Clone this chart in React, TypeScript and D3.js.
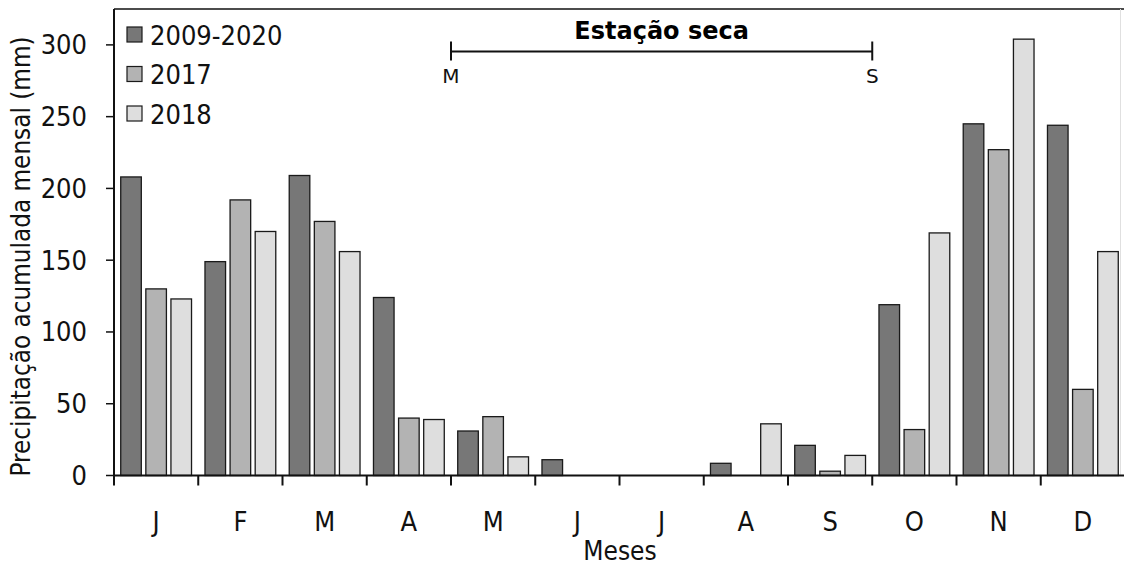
import React from "react";
import * as d3 from "d3";

const months = ["J", "F", "M", "A", "M", "J", "J", "A", "S", "O", "N", "D"];
const seriesNames = ["2009-2020", "2017", "2018"];
const seriesColors = ["#777777", "#b3b3b3", "#dedede"];
const mean0920 = [208, 149, 209, 124, 31, 11, 0, 8.5, 21, 119, 245, 244];
const y2017 = [130, 192, 177, 40, 41, 0, 0, 0, 3, 32, 227, 60];
const y2018 = [123, 170, 156, 39, 13, 0, 0, 36, 14, 169, 304, 156];
const yTicks = [0, 50, 100, 150, 200, 250, 300];
const drySeason = { from: 4, to: 8, title: "Estação seca", startLabel: "M", endLabel: "S" };

const W = 1124;
const H = 565;
const FONT = "'DejaVu Sans Condensed', 'DejaVu Sans', sans-serif";

export default function App() {
  const left = 114;
  const right = 1125;
  const top = 9;
  const bottom = 475.5;

  const x = d3.scaleBand<number>().domain(months.map((_, i) => i)).range([left, right]).padding(0);
  const xs = d3
    .scaleBand<number>()
    .domain([0, 1, 2])
    .range([0, x.bandwidth()])
    .paddingInner(0.18)
    .paddingOuter(0.268);
  const y = d3.scaleLinear().domain([0, 325]).range([bottom, top]);

  const data = [mean0920, y2017, y2018];

  const bounds = d3.range(months.length + 1).map((i) => (i < months.length ? x(i)! : x(months.length - 1)! + x.bandwidth()));

  const dsX1 = x(drySeason.from)!;
  const dsX2 = x(drySeason.to)! + x.bandwidth();
  const dsY = 51.5;

  return (
    <svg
      width={W}
      height={H}
      style={{ position: "absolute", left: 0, top: 0, display: "block", background: "#fff" }}
      fontFamily={FONT}
    >
      <rect x={0} y={0} width={W} height={H} fill="#fff" />
      {/* frame */}
      <line x1={left} x2={W} y1={top} y2={top} stroke="#111" strokeWidth={1.5} />
      <line x1={1120.5} x2={1120.5} y1={top} y2={bottom} stroke="#e0e0e0" strokeWidth={1} />

      {/* bars */}
      {data.map((vals, s) =>
        vals.map((v, i) =>
          v > 0 ? (
            <rect
              key={`${s}-${i}`}
              x={x(i)! + xs(s)!}
              y={y(v)}
              width={xs.bandwidth()}
              height={bottom - y(v)}
              fill={seriesColors[s]}
              stroke="#1a1a1a"
              strokeWidth={1.3}
            />
          ) : null
        )
      )}

      {/* y axis */}
      <line x1={left} x2={left} y1={top} y2={bottom} stroke="#111" strokeWidth={2} />
      {yTicks.map((t) => (
        <g key={t}>
          <line x1={left - 8} x2={left} y1={y(t)} y2={y(t)} stroke="#111" strokeWidth={1.5} />
          <text x={87} y={y(t)} textAnchor="end" dominantBaseline="central" fontSize={27} fill="#111">
            {t}
          </text>
        </g>
      ))}

      {/* x axis */}
      <line x1={left} x2={W} y1={bottom} y2={bottom} stroke="#111" strokeWidth={2} />
      {bounds.map((b, i) => (
        <line key={i} x1={b} x2={b} y1={bottom} y2={bottom + 10} stroke="#111" strokeWidth={2} />
      ))}
      {months.map((m, i) => (
        <text key={i} x={x(i)! + x.bandwidth() / 2} y={531} textAnchor="middle" fontSize={27} fill="#111">
          {m}
        </text>
      ))}

      {/* axis titles */}
      <text x={620} y={560} textAnchor="middle" fontSize={26} fill="#111">
        Meses
      </text>
      <text
        transform={`translate(30, 256.5) rotate(-90)`}
        textAnchor="middle"
        fontSize={25.8}
        fill="#111"
      >
        Precipitação acumulada mensal (mm)
      </text>

      {/* legend */}
      {seriesNames.map((n, s) => (
        <g key={n} transform={`translate(127, ${27 + s * 39.5})`}>
          <rect x={0} y={0} width={15} height={15} fill={seriesColors[s]} stroke="#1a1a1a" strokeWidth={1.2} />
          <text x={23} y={8} dominantBaseline="central" fontSize={27} fill="#111">
            {n}
          </text>
        </g>
      ))}

      {/* dry season annotation */}
      <line x1={dsX1} x2={dsX2} y1={dsY} y2={dsY} stroke="#111" strokeWidth={2} />
      <line x1={dsX1} x2={dsX1} y1={dsY - 10} y2={dsY + 9} stroke="#111" strokeWidth={2} />
      <line x1={dsX2} x2={dsX2} y1={dsY - 10} y2={dsY + 9} stroke="#111" strokeWidth={2} />
      <text
        x={(dsX1 + dsX2) / 2}
        y={39}
        textAnchor="middle"
        fontSize={24}
        fontWeight="bold"
        fill="#000"
        fontFamily="'DejaVu Sans', sans-serif"
      >
        {drySeason.title}
      </text>
      <text x={dsX1} y={83} textAnchor="middle" fontSize={20} fill="#111" fontFamily="'DejaVu Sans', sans-serif">
        {drySeason.startLabel}
      </text>
      <text x={dsX2} y={83} textAnchor="middle" fontSize={20} fill="#111" fontFamily="'DejaVu Sans', sans-serif">
        {drySeason.endLabel}
      </text>
    </svg>
  );
}
